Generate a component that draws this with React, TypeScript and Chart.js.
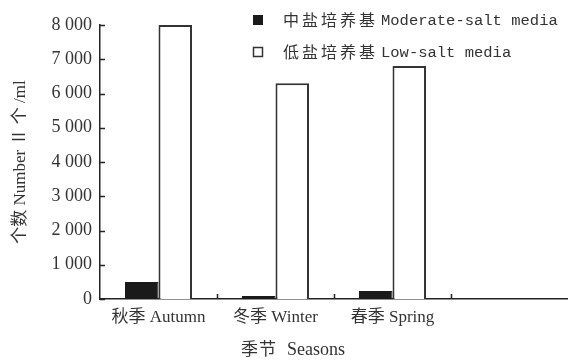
import React, { useEffect, useRef } from 'react';
import { Chart, registerables } from 'chart.js';

Chart.register(...registerables);

const categories = ['秋季 Autumn', '冬季 Winter', '春季 Spring', ''];
const moderateSalt = [500, 90, 230, null];
const lowSalt = [8000, 6300, 6800, null];
const yTickLabels = ['0', '1 000', '2 000', '3 000', '4 000', '5 000', '6 000', '7 000', '8 000'];
const legendZh = ['中盐培养基', '低盐培养基'];
const legendEn = ['Moderate-salt media', 'Low-salt media'];
const seriesNames = ['中盐培养基 Moderate-salt media', '低盐培养基 Low-salt media'];
const xTitle = ['季节', 'Seasons'];
const yTitle = '个数 Number Ⅱ 个 /ml';

const SERIF = "'Liberation Serif', 'Noto Sans CJK SC', serif";

const decorPlugin = {
  id: 'decor',
  afterDraw(chart: any) {
    const { ctx, chartArea, scales } = chart;
    const x = scales.x;
    const y = scales.y;
    ctx.save();
    ctx.strokeStyle = '#222';
    ctx.lineWidth = 1.5;
    // inward y ticks
    y.ticks.forEach((t: any) => {
      const py = Math.round(y.getPixelForValue(t.value)) + 0.5;
      ctx.beginPath();
      ctx.moveTo(chartArea.left, py);
      ctx.lineTo(chartArea.left + 5, py);
      ctx.stroke();
    });
    // inward x ticks at category boundaries
    for (let i = 0; i < categories.length - 1; i++) {
      const px = Math.round((x.getPixelForValue(i) + x.getPixelForValue(i + 1)) / 2) + 0.5;
      ctx.beginPath();
      ctx.moveTo(px, chartArea.bottom);
      ctx.lineTo(px, chartArea.bottom - 5);
      ctx.stroke();
    }
    // legend
    const lx = 253;
    const rows = [20, 52];
    rows.forEach((ry, i) => {
      if (i === 0) {
        ctx.fillStyle = '#1a1a1a';
        ctx.fillRect(lx, ry - 5, 10, 10);
      } else {
        ctx.fillStyle = '#fff';
        ctx.fillRect(lx, ry - 5, 10, 10);
        ctx.strokeStyle = '#333';
        ctx.lineWidth = 1.5;
        ctx.strokeRect(lx + 0.5, ry - 4.5, 9, 9);
      }
      ctx.fillStyle = '#333';
      ctx.textBaseline = 'middle';
      ctx.textAlign = 'left';
      ctx.font = "16px 'Noto Sans CJK SC'";
      (ctx as any).letterSpacing = '3px';
      ctx.fillText(legendZh[i], 283, ry);
      (ctx as any).letterSpacing = '0px';
      ctx.font = "15.5px 'Liberation Mono', monospace";
      ctx.fillText(legendEn[i], 381, ry + 1);
    });
    // x title
    ctx.fillStyle = '#333';
    ctx.textBaseline = 'middle';
    ctx.textAlign = 'left';
    ctx.font = "17px 'Noto Sans CJK SC'";
    (ctx as any).letterSpacing = '1px';
    ctx.fillText(xTitle[0], 241, 349);
    (ctx as any).letterSpacing = '0px';
    ctx.font = "18px 'Liberation Serif', serif";
    ctx.fillText(xTitle[1], 287, 350);
    ctx.restore();
  },
};

export default function App() {
  const ref = useRef<HTMLCanvasElement | null>(null);
  useEffect(() => {
    document.body.style.margin = '0';
    const canvas = ref.current;
    if (!canvas) return;
    const chart = new Chart(canvas, {
      type: 'bar',
      data: {
        labels: categories,
        datasets: [
          {
            label: seriesNames[0],
            data: moderateSalt,
            backgroundColor: '#1a1a1a',
            borderColor: '#1a1a1a',
            borderWidth: 1,
          },
          {
            label: seriesNames[1],
            data: lowSalt,
            backgroundColor: '#ffffff',
            borderColor: '#333333',
            borderWidth: 2,
          },
        ],
      },
      options: {
        animation: false,
        responsive: false,
        devicePixelRatio: 1,
        layout: { padding: { top: 25, right: 0, bottom: 0, left: 0 } },
        plugins: {
          legend: { display: false },
          tooltip: { enabled: false },
        },
        datasets: {
          bar: { barPercentage: 1, categoryPercentage: 0.573 },
        },
        scales: {
          x: {
            grid: { display: false, drawTicks: false },
            border: { display: true, color: '#222', width: 1.5 },
            ticks: {
              color: '#333',
              font: { family: SERIF, size: 17 },
              padding: 8,
              maxRotation: 0,
              autoSkip: false,
            },
            afterFit: (s: any) => { s.height = 65; },
          },
          y: {
            min: 0,
            max: 8000,
            grid: { display: false, drawTicks: false },
            border: { display: true, color: '#222', width: 1.5 },
            ticks: {
              stepSize: 1000,
              color: '#333',
              padding: 8,
              font: { family: SERIF, size: 18 },
              callback: (v: any) => yTickLabels[Math.round(Number(v) / 1000)],
            },
            title: {
              display: true,
              text: yTitle,
              color: '#333',
              font: { family: SERIF, size: 17 },
              padding: { top: 10, bottom: 0 },
            },
            afterFit: (s: any) => { s.width = 100; },
          },
        },
      },
      plugins: [decorPlugin],
    });
    return () => chart.destroy();
  }, []);
  return (
    <div style={{ width: 568, height: 364 }}>
      <canvas ref={ref} width={568} height={364} />
    </div>
  );
}
